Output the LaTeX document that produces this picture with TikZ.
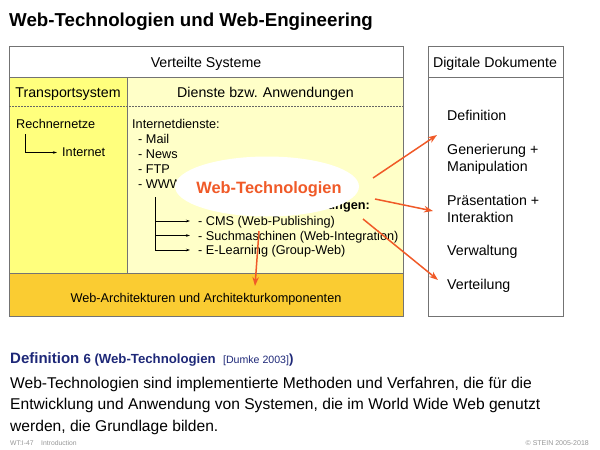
\documentclass[tikz,border=0pt]{standalone}
\usepackage{fontspec}
\setmainfont{Liberation Sans}
\usetikzlibrary{arrows.meta}
\definecolor{colA}{RGB}{255,255,125}
\definecolor{colB}{RGB}{255,255,200}
\definecolor{colC}{RGB}{250,204,50}
\definecolor{arr}{RGB}{240,90,40}
\definecolor{defblue}{RGB}{30,40,120}
\definecolor{foot}{RGB}{150,150,150}
\begin{document}
\begin{tikzpicture}[x=1pt,y=-1pt,
  txt/.style={inner sep=0pt,font=\fontsize{12.7}{14}\selectfont},
  hdr/.style={inner sep=0pt,font=\fontsize{14.2}{16}\selectfont},
  frame/.style={draw=black!55,line width=0.8pt},
  redarrow/.style={draw=arr,line width=1.5pt,-{Stealth[length=9pt,width=6.5pt]}},
  blkarrow/.style={draw=black,line width=0.5pt,-{Stealth[length=4pt,width=2.5pt]}}]
\useasboundingbox (0,0) rectangle (600,450);
% title
\node[inner sep=0pt,anchor=base west,font=\fontsize{18.7}{21}\selectfont\bfseries] (title) at (9,26) {Web-Technologien und Web-Engineering};
% left box fills
\fill[colA] (9,77) rectangle (127,273);
\fill[colB] (127,77) rectangle (403,273);
\fill[colC] (9,273) rectangle (403,316);
\draw[frame] (9,46) rectangle (403,316);
\draw[frame] (9,77) -- (403,77);
\draw[frame] (127,77) -- (127,273);
\draw[frame] (9,273) -- (403,273);
\draw[black!60,dash pattern=on 1.5pt off 1.5pt,line width=0.5pt] (9,106) -- (403,106);
\node[hdr,anchor=base] (vs) at (206,67) {Verteilte Systeme};
\node[hdr,anchor=base] (ts) at (68,97) {Transportsystem};
\node[hdr,anchor=base] (da) at (265.5,97) {Dienste bzw. Anwendungen};
\node[txt,anchor=base west] (rn) at (16,128.5) {Rechnernetze};
\node[txt,anchor=base west] (inet) at (62,156.5) {Internet};
\coordinate (rnb) at (25,134);
\coordinate (rne) at (57,152.5);
\draw[blkarrow] (rnb) |- (rne);
\node[txt,anchor=base west] (idi) at (132,128.5) {Internetdienste:};
\node[txt,anchor=base west] (mail) at (138,143.5) {- Mail};
\node[txt,anchor=base west] (news) at (138,158.5) {- News};
\node[txt,anchor=base west] (ftp) at (138,173.5) {- FTP};
\node[txt,anchor=base west] (www) at (138,188.5) {- WWW};
\node[txt,anchor=base east,font=\fontsize{12.7}{14}\selectfont\bfseries] (wa) at (370,209.5) {Web-Anwendungen:};
\node[txt,anchor=base west] (cms) at (198,225.5) {- CMS (Web-Publishing)};
\node[txt,anchor=base west] (such) at (198,240) {- Suchmaschinen (Web-Integration)};
\node[txt,anchor=base west] (el) at (198,254.5) {- E-Learning (Group-Web)};
\coordinate (wb) at (155,197);
\coordinate (b1) at (155,221);
\coordinate (b2) at (155,235.5);
\coordinate (b3) at (155,250);
\coordinate (a1) at (190,221);
\coordinate (a2) at (190,235.5);
\coordinate (a3) at (190,250);
\draw[black,line width=0.5pt] (wb) -- (b3);
\draw[blkarrow] (b1) -- (a1);
\draw[blkarrow] (b2) -- (a2);
\draw[blkarrow] (b3) -- (a3);
\node[txt,anchor=base] (arch) at (206,302) {Web-Architekturen und Architekturkomponenten};
% right box
\draw[frame] (428,46) rectangle (563,316);
\draw[frame] (428,77) -- (563,77);
\node[hdr,anchor=base] (dd) at (495,67) {Digitale Dokumente};
\node[hdr,anchor=base west] (d1) at (447,120) {Definition};
\node[hdr,anchor=base west] (d2) at (447,154) {Generierung +};
\node[hdr,anchor=base west] (d2b) at (447,171) {Manipulation};
\node[hdr,anchor=base west] (d3) at (447,205) {Präsentation +};
\node[hdr,anchor=base west] (d3b) at (447,222) {Interaktion};
\node[hdr,anchor=base west] (d4) at (447,255) {Verwaltung};
\node[hdr,anchor=base west] (d5) at (447,289) {Verteilung};
% ellipse
\fill[white] (267,186.5) ellipse [x radius=92, y radius=30];
\node[inner sep=0pt,font=\fontsize{16.4}{18}\selectfont\bfseries,text=arr] (wt) at (269,189) {Web-Technologien};
\coordinate (s1) at (373,178);
\coordinate (e1) at (437,135);
\coordinate (s2) at (375,199);
\coordinate (e2) at (433,211);
\coordinate (s3) at (363,219);
\coordinate (e3) at (438,280);
\coordinate (s4) at (259,231);
\coordinate (e4) at (255,286);
\draw[redarrow] (s1) -- (e1);
\draw[redarrow] (s2) -- (e2);
\draw[redarrow] (s3) -- (e3);
\draw[redarrow] (s4) -- (e4);
% definition
\node[inner sep=0pt,anchor=base west,text=defblue] (def) at (10,363) {\fontsize{15}{17}\selectfont\bfseries Definition \fontsize{13.2}{15}\selectfont 6 (Web-Technologien\ \ \mdseries\fontsize{10.6}{12}\selectfont [Dumke 2003]\fontsize{13.2}{15}\selectfont\bfseries)};
\node[inner sep=0pt,anchor=base west,font=\fontsize{15.6}{21.5}\selectfont] (body1) at (10,388) {Web-Technologien sind implementierte Methoden und Verfahren, die für die};
\node[inner sep=0pt,anchor=base west,font=\fontsize{15.6}{21.5}\selectfont] (body2) at (10,409.5) {Entwicklung und Anwendung von Systemen, die im World Wide Web genutzt};
\node[inner sep=0pt,anchor=base west,font=\fontsize{15.6}{21.5}\selectfont] (body3) at (10,431) {werden, die Grundlage bilden.};
\node[inner sep=0pt,anchor=base west,text=foot,font=\fontsize{6.8}{8}\selectfont] (f1) at (10,445) {WT:I-47\ \ \ \ Introduction};
\node[inner sep=0pt,anchor=base east,text=foot,font=\fontsize{7}{8}\selectfont] (f2) at (589,445) {© STEIN 2005-2018};
\end{tikzpicture}
\end{document}
